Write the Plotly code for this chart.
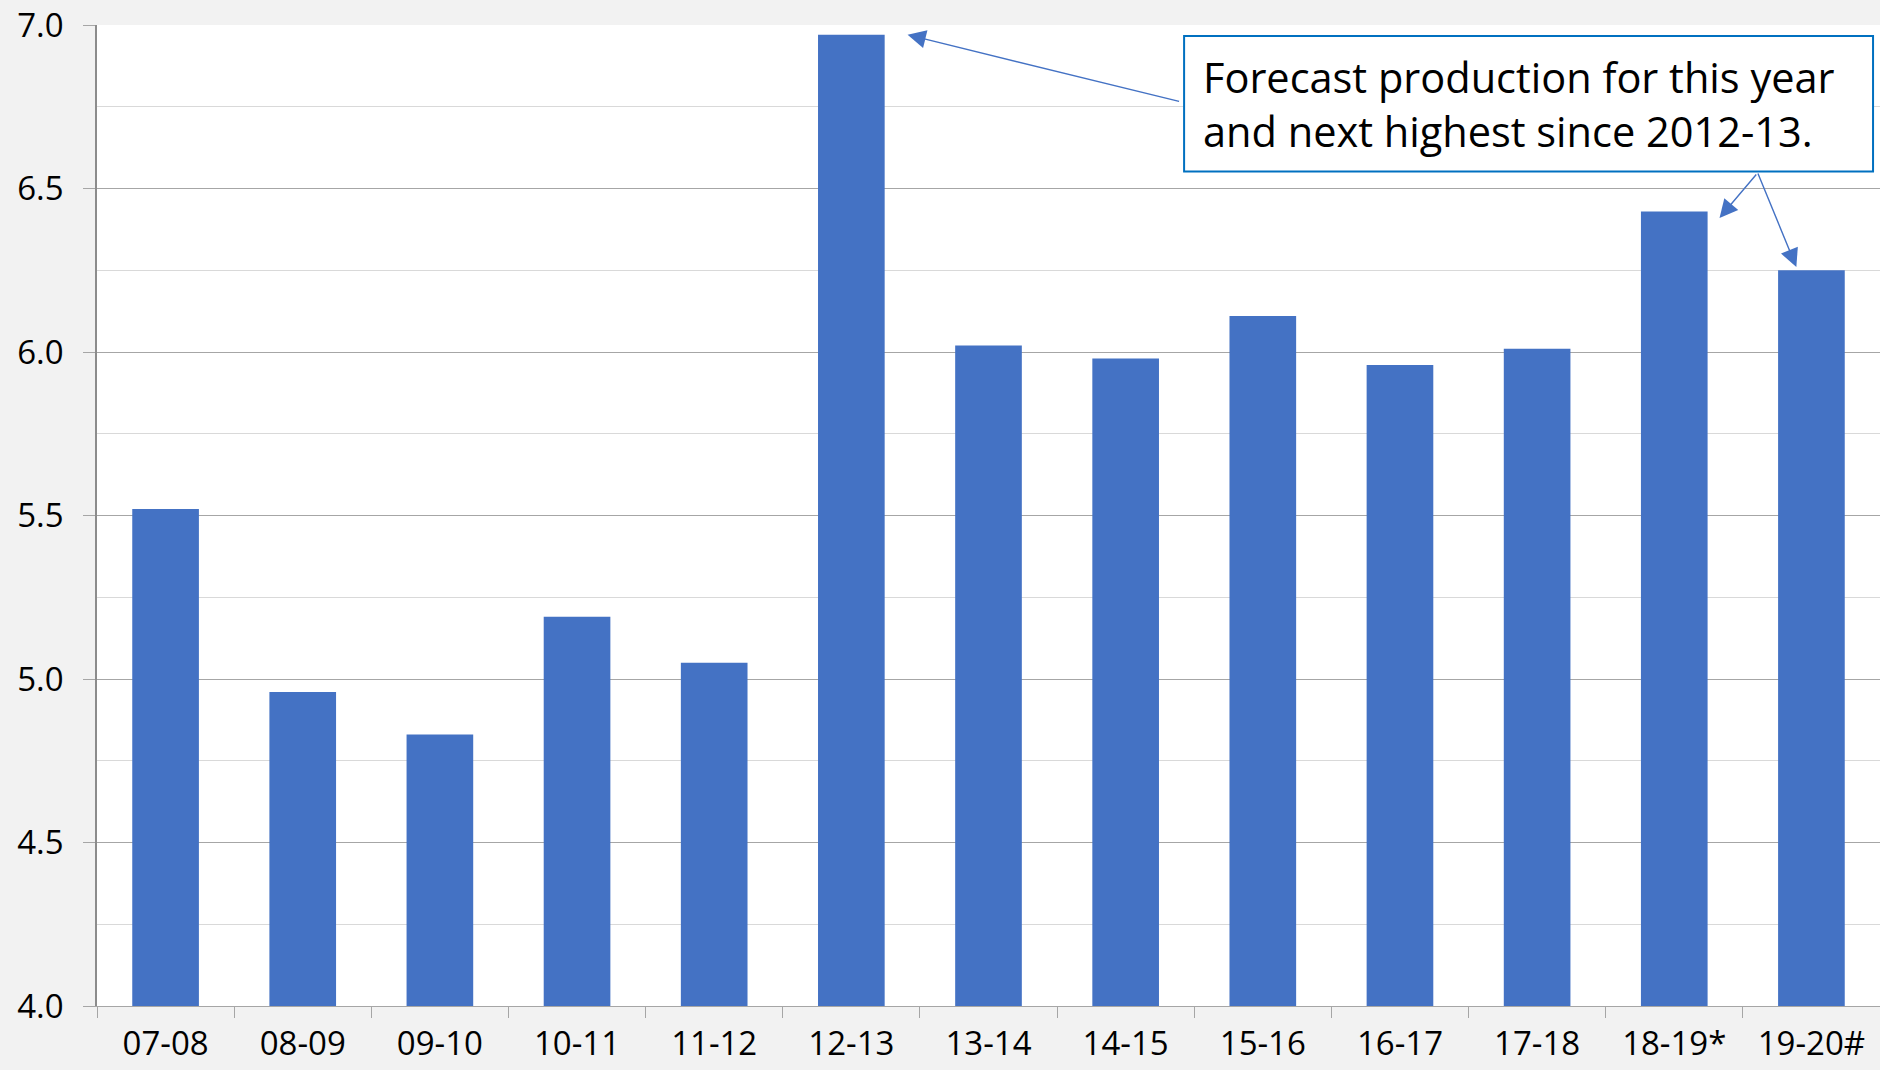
import plotly.graph_objects as go

categories = ["07-08", "08-09", "09-10", "10-11", "11-12", "12-13", "13-14",
              "14-15", "15-16", "16-17", "17-18", "18-19*", "19-20#"]
values = [5.52, 4.96, 4.83, 5.19, 5.05, 6.97, 6.02, 5.98, 6.11, 5.96, 6.01, 6.43, 6.25]
y_ticks = [4.0, 4.5, 5.0, 5.5, 6.0, 6.5, 7.0]
note = "Forecast production for this year<br>and next highest since 2012-13."

BLUE = "#4472C4"
FONT = "Open Sans"

fig = go.Figure()
fig.add_trace(go.Bar(x=categories, y=values, marker=dict(color=BLUE, line=dict(width=0))))

fig.update_layout(
    width=1880, height=1070,
    margin=dict(l=97, r=0, t=25, b=64),
    paper_bgcolor="#F2F2F2", plot_bgcolor="white",
    bargap=0.514, showlegend=False,
    font=dict(family=FONT, size=33, color="black"),
)
fig.update_yaxes(
    range=[4.0, 7.0], tickvals=y_ticks, tickformat=".1f",
    showgrid=True, gridcolor="#A6A6A6", gridwidth=1.3,
    minor=dict(dtick=0.25, showgrid=True, gridcolor="#D9D9D9", gridwidth=1.3),
    showline=True, linecolor="#8C8C8C", linewidth=1.5,
    ticks="outside", ticklen=12, tickcolor="#A6A6A6", tickwidth=1.3,
    ticklabelstandoff=13, zeroline=False,
)
fig.update_xaxes(
    type="category", tickson="boundaries",
    showline=True, linecolor="#A6A6A6", linewidth=1.3,
    ticks="outside", ticklen=11, tickcolor="#A6A6A6", tickwidth=1.3,
    showgrid=False, ticklabelstandoff=8,
)

# callout box
fig.add_shape(type="rect", xref="paper", yref="paper",
              x0=0.6097, x1=0.9961, y0=0.8507, y1=0.9888,
              line=dict(color="#0070C0", width=2), fillcolor="white", layer="above")
fig.add_annotation(xref="paper", yref="paper", x=0.619, y=0.919,
                   xanchor="left", yanchor="middle", align="left",
                   text=note, showarrow=False,
                   font=dict(family=FONT, size=41.5, color="black"))

# arrows
arrows = [(5.41, 6.97, 273, 67), (11.33, 6.41, 38, -45), (11.89, 6.26, -39, -95)]
for ax_x, ax_y, dx, dy in arrows:
    fig.add_annotation(xref="x", yref="y", x=ax_x, y=ax_y, ax=dx, ay=dy,
                       axref="pixel", ayref="pixel", text="", showarrow=True,
                       arrowhead=2, arrowsize=2.6, arrowwidth=1.4, arrowcolor=BLUE)

fig.write_html("out.html")
